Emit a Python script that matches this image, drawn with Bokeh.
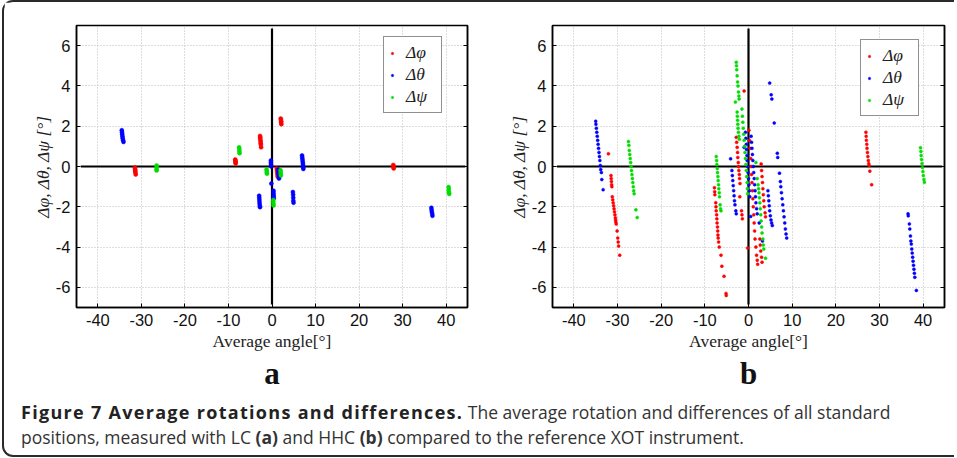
from bokeh.plotting import figure
from bokeh.models import (Legend, LegendItem, LinearAxis, FixedTicker, Title, Div, Range1d)
from bokeh.layouts import row, column
from bokeh.embed import file_html
from bokeh.resources import INLINE

# ---------------- data ----------------
x_ticks = [-40, -30, -20, -10, 0, 10, 20, 30, 40]
y_ticks = [-6, -4, -2, 0, 2, 4, 6]
x_tick_labels = ["-40", "-30", "-20", "-10", "0", "10", "20", "30", "40"]
y_tick_labels = ["-6", "-4", "-2", "0", "2", "4", "6"]
series_labels = ["Δφ", "Δθ", "Δψ"]
series_colors = ["#ff0000", "#0000ff", "#00dd00"]
axis_cross_x = [-43.9, 44.4]
axis_cross_y = [-6.85, 6.85]
zero_level = [0, 0]

# panel a (LC)
a_phi_x = [-31.5, -31.45, -31.4, -31.4, -31.35, -31.3,
           -8.45, -8.4, -8.4, -8.35, -8.35,
           -2.75, -2.7, -2.7, -2.65, -2.6, -2.6, -2.55, -2.5,
           2.0, 2.05, 2.1, 2.1, 2.15,
           1.1, 1.15, 1.2, 1.25, 1.3,
           27.85, 27.9, 27.9, 27.95]
a_phi_y = [-0.05, -0.12, -0.18, -0.25, -0.32, -0.40,
           0.35, 0.30, 0.25, 0.20, 0.15,
           1.52, 1.45, 1.38, 1.30, 1.22, 1.15, 1.08, 0.95,
           2.38, 2.32, 2.25, 2.18, 2.10,
           -0.10, -0.20, -0.30, -0.40, -0.50,
           0.08, 0.02, -0.04, -0.10]
a_theta_x = [-34.5, -34.45, -34.4, -34.35, -34.3, -34.2, -34.1,
             -2.95, -2.92, -2.9, -2.87, -2.85, -2.8, -2.75,
             -0.25, -0.25, -0.22, -0.2,
             -0.15,
             0.35, 0.35, 0.38, 0.4, 0.4,
             1.45, 1.5, 1.5, 1.55, 1.6, 1.6,
             4.8, 4.85, 4.88, 4.9, 4.95,
             6.9, 6.95, 7.0, 7.05, 7.1, 7.12, 7.15, 7.2,
             36.6, 36.65, 36.7, 36.8, 36.85]
a_theta_y = [1.80, 1.70, 1.60, 1.50, 1.40, 1.30, 1.22,
             -1.45, -1.55, -1.65, -1.75, -1.85, -1.95, -2.02,
             0.30, 0.20, 0.10, 0.00,
             -0.85,
             -1.20, -1.30, -1.40, -1.50, -1.58,
             -0.15, -0.25, -0.35, -0.45, -0.55, -0.60,
             -1.27, -1.40, -1.55, -1.70, -1.80,
             0.55, 0.45, 0.35, 0.25, 0.15, 0.05, -0.05, -0.12,
             -2.05, -2.15, -2.25, -2.35, -2.45]
a_psi_x = [-26.5, -26.5, -26.5, -26.5,
           -7.55, -7.5, -7.5, -7.45,
           -1.25, -1.2, -1.2, -1.15,
           1.95, 2.0, 2.0, 2.05,
           0.3, 0.3, 0.32, 0.35,
           40.55, 40.6, 40.6, 40.65, 40.7]
a_psi_y = [0.05, -0.05, -0.15, -0.20,
           0.95, 0.85, 0.75, 0.66,
           -0.15, -0.22, -0.30, -0.36,
           -0.18, -0.27, -0.36, -0.45,
           -1.66, -1.75, -1.85, -1.94,
           -1.02, -1.12, -1.22, -1.30, -1.36]

# panel b (HHC)
b_phi_x = [-32.1,
           -31.5, -31.45, -31.4, -31.35, -31.3, -31.2, -31.1, -31.0, -30.9, -30.8, -30.7,
           -30.6, -30.5, -30.45, -30.4, -30.3, -30.1, -29.95, -29.85, -29.75, -29.5,
           -7.8, -7.75, -7.7, -7.5, -7.45, -7.4, -7.3, -7.25, -7.2, -7.1, -7.05, -7.0,
           -6.95, -6.85, -6.7, -6.3, -6.1, -5.6, -5.15, -5.1,
           -2.8, -2.7, -2.6, -2.5, -2.45, -2.35, -2.3, -2.2, -2.1, -2.05, -1.95, -2.0,
           -1.6, -1.5, -1.4, -1.0,
           0.1, 0.2, 0.35, 0.5, 0.6, 0.7, 0.8, 0.9, 1.0, 1.1, 1.2, 1.3, 1.4, 1.5, 1.7,
           1.85, 2.0, 2.1, -0.2,
           2.9, 3.0, 3.1, 3.2, 3.3, 3.4, 3.5, 3.6, 3.8, 3.9,
           2.6, 2.7, 2.8, 3.0, 3.1,
           26.9, 26.95, 27.0, 27.1, 27.15, 27.25, 27.35, 27.45, 27.55, 27.65, 27.8, 28.2]
b_phi_y = [0.63,
           -0.45, -0.6, -0.75, -0.9, -1.0, -1.5, -1.65, -1.8, -1.95, -2.1, -2.25,
           -2.4, -2.55, -2.65, -2.75, -2.85, -3.2, -3.55, -3.75, -3.95, -4.4,
           -1.05, -1.25, -1.4, -1.8, -2.0, -2.2, -2.4, -2.6, -2.8, -3.0, -3.2, -3.4,
           -3.55, -3.75, -4.0, -4.4, -4.95, -5.45, -6.3, -6.4,
           1.45, 1.2, 0.95, 0.7, 0.45, 0.2, 0.0, -0.2, -0.4, -0.6, -0.85, -1.5,
           -2.2, -2.4, -2.6, 3.75,
           1.8, 1.3, 0.9, 0.4, 0.0, -0.4, -0.8, -1.2, -1.6, -2.0, -2.4, -2.8, -3.2, -3.6, -4.0,
           -4.4, -4.65, -4.85, -4.05,
           0.13, -0.2, -0.5, -0.8, -1.1, -1.4, -1.7, -2.0, -2.3, -2.5,
           -3.6, -3.9, -4.2, -4.5, -4.75,
           1.7, 1.5, 1.3, 1.1, 0.9, 0.7, 0.5, 0.3, 0.15, 0.05, -0.23, -0.9]
b_theta_x = [-35.0, -34.95, -34.85, -34.75, -34.65, -34.55, -34.45, -34.35, -34.25, -34.15,
             -34.05, -33.95, -33.85, -33.7, -33.6, -33.3,
             -4.1, -3.8, -3.7, -3.6, -3.5, -3.4, -3.3, -3.2, -3.1, -2.9, -2.8,
             -1.0, -0.7, -0.6, -0.5, -0.45, -0.35, -0.3, -0.2, -0.1, 0.0, 0.1, 0.2, 0.3,
             0.6, 0.7, 0.8, 0.9, 1.0, 1.1, 1.2, 1.3, 1.4, 1.5, 1.6, 1.7, 1.85, 2.0, 0.5, 2.45, 3.2,
             4.45, 4.55, 4.65, 4.75, 4.85, 5.0, 5.15, 5.3, 5.45,
             4.85, 5.2, 5.35, 5.9,
             6.6, 6.7, 7.1, 7.3, 7.4, 7.55, 7.7, 7.85, 8.0, 8.15, 8.3, 8.45, 8.6, 8.75,
             36.55, 36.6, 36.85, 36.95, 37.1, 37.2, 37.3, 37.4, 37.5, 37.6, 37.7, 37.8,
             37.9, 38.0, 38.1, 38.45]
b_theta_y = [2.25, 2.1, 1.9, 1.7, 1.5, 1.3, 1.1, 0.9, 0.7, 0.5,
             0.3, 0.05, -0.15, -0.3, -0.65, -1.15,
             0.38, -0.2, -0.45, -0.7, -0.95, -1.2, -1.45, -1.7, -1.9, -2.2, -2.35,
             0.95, 1.7, 1.4, 1.1, 0.85, 0.55, 0.3, 0.0, -0.3, -0.6, -0.9, -1.2, -1.5,
             1.5, 1.2, 0.9, 0.6, 0.3, 0.0, -0.3, -0.6, -0.9, -1.2, -1.5, -1.8, -2.1, -2.35, -2.48, -2.8, -3.7,
             -1.2, -1.45, -1.7, -1.95, -2.2, -2.45, -2.65, -2.8, -2.93,
             4.14, 3.56, 3.35, 2.16,
             0.66, 0.45, -0.33, -0.75, -1.0, -1.3, -1.6, -1.9, -2.2, -2.5, -2.8, -3.1, -3.35, -3.55,
             -2.35, -2.45, -2.85, -3.1, -3.45, -3.7, -3.85, -4.1, -4.3, -4.5, -4.7, -4.9,
             -5.1, -5.3, -5.5, -6.15]
b_psi_x = [-27.5, -27.4, -27.3, -27.2, -27.1, -27.0, -26.9, -26.8, -26.7, -26.6, -26.5,
           -26.4, -26.3, -26.2, -25.8, -25.5,
           -7.4, -7.3, -7.25, -7.15, -7.1, -7.0, -6.95, -6.85, -6.8, -6.7, -6.65, -6.5, -6.4, -6.3,
           -2.8, -2.75, -2.7, -2.6, -2.5, -2.4, -2.3, -2.2, -2.15, -3.0,
           -2.6, -2.55, -2.5, -2.45, -2.4, -2.3, -2.2, -2.1,
           -1.5, -1.4, -1.3, -1.2, -1.1, -1.0, -0.9, -0.8, -0.7, -0.6, -0.5, -0.4, -0.3, -0.25, -0.2,
           1.7, 2.0, 2.2, 2.3, 2.4, 2.5, 2.6, 2.7, 2.8, 2.9, 3.0, 3.1, 3.3, 3.4, 3.5, 3.9,
           39.4, 39.5, 39.55, 39.65, 39.75, 39.85, 39.95, 40.05, 40.2, 40.3]
b_psi_y = [1.24, 1.05, 0.8, 0.6, 0.4, 0.2, 0.0, -0.2, -0.4, -0.6, -0.8,
           -1.0, -1.2, -1.35, -2.15, -2.53,
           0.5, 0.3, 0.1, -0.1, -0.3, -0.5, -0.7, -0.9, -1.1, -1.3, -1.5, -1.9, -2.1, -2.2,
           5.18, 5.0, 4.8, 4.5, 4.2, 4.0, 3.7, 3.5, 3.35, 3.2,
           2.7, 2.5, 2.3, 2.1, 1.9, 1.7, 1.5, 1.35,
           2.85, 2.5, 2.2, 1.9, 1.6, 1.3, 1.0, 0.7, 0.4, 0.1, -0.2, -0.5, -0.8, -1.1, -1.35,
           0.2, -0.6, -0.9, -1.1, -1.3, -1.55, -1.8, -2.1, -2.4, -2.7, -3.0, -3.3, -3.6, -3.9, -4.1, -4.55,
           0.93, 0.75, 0.55, 0.35, 0.15, -0.05, -0.25, -0.45, -0.65, -0.78]

TICK_FONT = "Liberation Sans"
SERIF = "Liberation Serif"


def style_axis(ax, ticks, labels):
    ax.ticker = FixedTicker(ticks=ticks)
    ax.minor_tick_line_color = None
    ax.major_tick_in = 4
    ax.major_tick_out = 0
    ax.major_tick_line_color = "black"
    ax.axis_line_color = "black"
    ax.axis_line_width = 1.5
    if labels is not None:
        ax.major_label_overrides = {t: s for t, s in zip(ticks, labels)}
        ax.major_label_text_font = TICK_FONT
        ax.major_label_text_font_size = "16.5px"
        ax.major_label_text_color = "#111111"
        ax.major_label_standoff = 6
    else:
        ax.major_label_text_font_size = "0px"
        ax.major_label_text_color = None
        ax.major_label_standoff = 0


def make_panel(xs, ys, letter, leg_loc, left, right, width, size):
    p = figure(width=width, height=393, x_range=Range1d(-44.9, 44.9), y_range=Range1d(-7, 7),
               output_backend="svg", toolbar_location=None,
               min_border_left=left, min_border_right=right,
               min_border_top=23, min_border_bottom=88)
    p.background_fill_color = "white"
    p.border_fill_color = "white"
    p.outline_line_color = "black"
    p.outline_line_width = 1.5

    style_axis(p.xaxis[0], x_ticks, x_tick_labels)
    style_axis(p.yaxis[0], y_ticks, y_tick_labels)
    p.xaxis[0].axis_label = "Average angle[°]"
    p.yaxis[0].axis_label = "Δφ, Δθ, Δψ [°]"
    for ax in (p.xaxis[0], p.yaxis[0]):
        ax.axis_label_text_font = SERIF
        ax.axis_label_text_font_size = "17.5px"
        ax.axis_label_text_color = "#222222"
    p.xaxis[0].axis_label_standoff = 2
    p.yaxis[0].axis_label_standoff = 0
    p.xaxis[0].axis_label_text_font_style = "normal"
    p.yaxis[0].axis_label_text_font_style = "italic"

    right_ax = LinearAxis()
    style_axis(right_ax, y_ticks, None)
    p.add_layout(right_ax, "right")

    p.xgrid.ticker = FixedTicker(ticks=x_ticks)
    p.ygrid.ticker = FixedTicker(ticks=y_ticks)
    for g in (p.xgrid[0], p.ygrid[0]):
        g.grid_line_color = "#bdbdbd"
        g.grid_line_dash = "1 2"
        g.grid_line_width = 1

    p.line(axis_cross_x, zero_level, line_color="black", line_width=2.2)
    p.line(zero_level, axis_cross_y, line_color="black", line_width=2.2)

    rends = []
    for x, y, c in zip(xs, ys, series_colors):
        r = p.scatter(x, y, marker="circle", size=size, fill_color=c, line_color=c,
                      line_width=0.5)
        rends.append(r)

    items = [LegendItem(label=l, renderers=[r]) for l, r in zip(series_labels, rends)]
    leg = Legend(items=items, location=leg_loc, orientation="vertical",
                 label_text_font=SERIF, label_text_font_style="italic",
                 label_text_font_size="17.5px", label_text_color="#222222",
                 glyph_width=6, glyph_height=18, label_height=18, label_width=30,
                 label_standoff=11, padding=5, spacing=1, margin=0,
                 border_line_color="#222222", border_line_width=1.5,
                 background_fill_color="white", background_fill_alpha=1)
    p.add_layout(leg)

    p.add_layout(Title(text=letter, align="center", text_font=SERIF,
                       text_font_size="31px", text_font_style="bold",
                       text_color="#111111", standoff=0), "below")
    return p


pa = make_panel([a_phi_x, a_theta_x, a_psi_x], [a_phi_y, a_theta_y, a_psi_y], "a",
                (307, 194), 72, 10, 473, 4)
pb = make_panel([b_phi_x, b_theta_x, b_psi_x], [b_phi_y, b_theta_y, b_psi_y], "b",
                (308, 191), 75, 2, 469, 3)

caption_html = (
    '<div style="font-family: \'Open Sans\', sans-serif; font-size: 17.5px; line-height: 25px; '
    'color: #333333; padding-left: 12px; padding-top: 0px; white-space: nowrap;">'
    '<b style="color:#222222; font-size: 18px; letter-spacing: 1.3px;">'
    'Figure 7 Average rotations and differences.</b> '
    'The average rotation and differences of all standard<br>'
    'positions, measured with LC <b>(a)</b> and HHC <b>(b)</b> compared to the reference XOT instrument.'
    '</div>'
)
cap = Div(text=caption_html, width=940, height=50)

page = column(row(pa, pb), cap,
              styles={"border": "2px solid #2a2a2a", "border-right": "none",
                      "border-radius": "11px 0 0 11px", "margin-left": "2px"})

open("out.html", "w").write(file_html(page, INLINE))
